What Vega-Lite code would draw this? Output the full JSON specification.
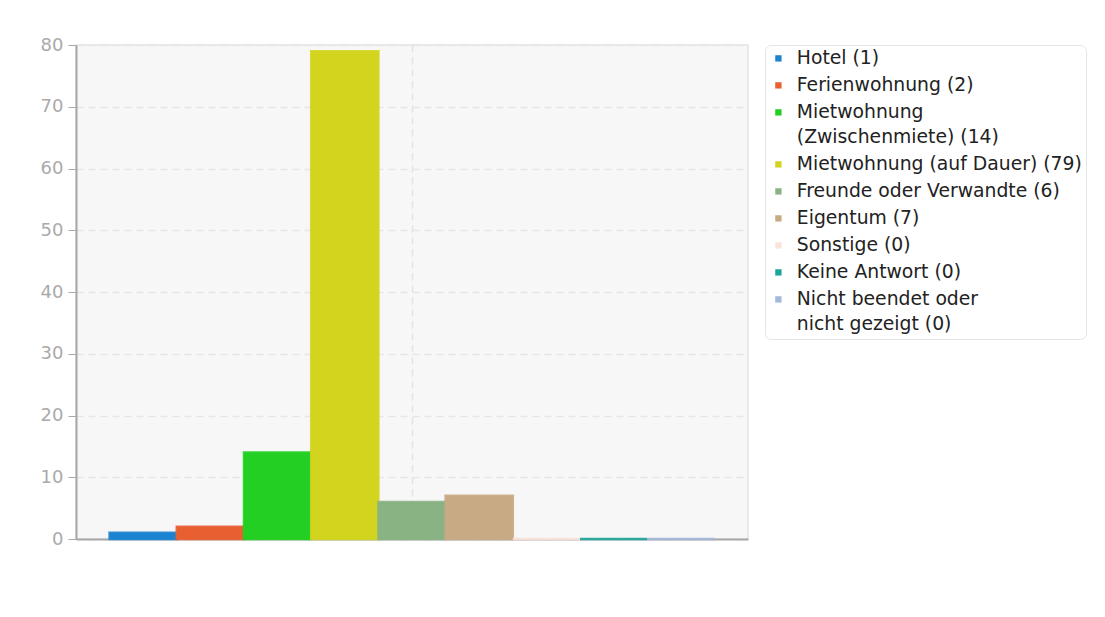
{
  "$schema": "https://vega.github.io/schema/vega-lite/v6.json",
  "autosize": "none",
  "width": 672,
  "height": 494,
  "padding": {"left": 76, "top": 45, "right": 357, "bottom": 78},
  "background": "white",
  "data": {
    "values": [
      {"antwort": "Hotel (1)", "anzahl": 1},
      {"antwort": "Ferienwohnung (2)", "anzahl": 2},
      {"antwort": "Mietwohnung (Zwischenmiete) (14)", "anzahl": 14},
      {"antwort": "Mietwohnung (auf Dauer) (79)", "anzahl": 79},
      {"antwort": "Freunde oder Verwandte (6)", "anzahl": 6},
      {"antwort": "Eigentum (7)", "anzahl": 7},
      {"antwort": "Sonstige (0)", "anzahl": 0},
      {"antwort": "Keine Antwort (0)", "anzahl": 0},
      {"antwort": "Nicht beendet oder nicht gezeigt (0)", "anzahl": 0}
    ]
  },
  "mark": {"type": "bar", "strokeWidth": 2.5, "strokeOpacity": 0.9},
  "encoding": {
    "x": {
      "field": "antwort",
      "type": "nominal",
      "sort": null,
      "scale": {"paddingInner": 0, "paddingOuter": 0.5},
      "axis": {
        "title": null,
        "labels": false,
        "ticks": false,
        "values": ["Freunde oder Verwandte (6)"],
        "grid": true,
        "gridColor": "#e2e2e2",
        "gridDash": [7, 5],
        "gridWidth": 1.5,
        "domainColor": "#a8a8a8",
        "domainWidth": 2
      }
    },
    "y": {
      "field": "anzahl",
      "type": "quantitative",
      "scale": {"domain": [0, 80], "nice": false},
      "axis": {
        "title": null,
        "values": [0, 10, 20, 30, 40, 50, 60, 70, 80],
        "grid": true,
        "gridColor": "#e6e6e6",
        "gridDash": [7, 5],
        "gridWidth": 1.5,
        "domainColor": "#a8a8a8",
        "domainWidth": 2,
        "tickColor": "#a8a8a8",
        "tickSize": 8,
        "labelColor": "#aaaaaa",
        "labelFont": "DejaVu Sans",
        "labelFontSize": 18,
        "labelPadding": 5
      }
    },
    "color": {
      "field": "antwort",
      "type": "nominal",
      "sort": null,
      "scale": {
        "range": ["#1b83d0", "#e85f32", "#22cf22", "#d2d41e", "#8ab384", "#c8aa84", "#fbe4dc", "#1ea59a", "#a3b9d9"]
      },
      "legend": {
        "title": null,
        "orient": "none",
        "legendX": 689,
        "legendY": 0,
        "symbolType": "square",
        "symbolSize": 40,
        "symbolStrokeWidth": 0,
        "symbolOffset": 0,
        "labelFont": "DejaVu Sans",
        "labelFontSize": 18.8,
        "labelColor": "#222222",
        "labelLimit": 400,
        "labelOffset": 9,
        "rowPadding": 7,
        "padding": 4,
        "fillColor": "white",
        "strokeColor": "#e4e4e4",
        "cornerRadius": 6,
        "labelExpr": "datum.label == 'Mietwohnung (Zwischenmiete) (14)' ? ['Mietwohnung', '(Zwischenmiete) (14)'] : datum.label == 'Nicht beendet oder nicht gezeigt (0)' ? ['Nicht beendet oder', 'nicht gezeigt (0)'] : datum.label"
      }
    },
    "stroke": {
      "field": "antwort",
      "type": "nominal",
      "sort": null,
      "scale": {
        "range": ["#1b83d0", "#e85f32", "#22cf22", "#d2d41e", "#8ab384", "#c8aa84", "#fbe4dc", "#1ea59a", "#a3b9d9"]
      },
      "legend": null
    }
  },
  "config": {
    "view": {"fill": "#f7f7f7", "stroke": "#e4e4e4", "strokeWidth": 1.5},
    "style": {"guide-label": {"lineHeight": 25}}
  }
}
